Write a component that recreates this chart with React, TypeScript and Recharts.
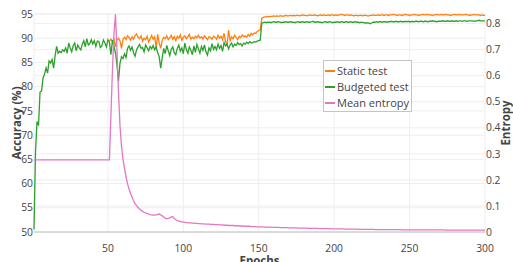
import { CartesianGrid, Label, Legend, Line, LineChart, ReferenceLine, XAxis, YAxis } from 'recharts';

// epochs 1..300
const budgetedTest = [
  50.5, 66.5, 72.8, 72.0, 78.9, 79.1, 81.8, 82.6, 83.9, 82.8,
  85.3, 84.9, 85.6, 83.8, 86.4, 88.3, 86.9, 87.3, 87.0, 87.6,
  87.3, 88.0, 86.9, 89.0, 88.0, 87.2, 88.5, 89.0, 87.4, 88.6,
  88.0, 87.6, 88.7, 89.5, 88.2, 89.9, 88.6, 88.9, 89.7, 88.8,
  89.5, 88.3, 89.4, 89.3, 88.1, 88.4, 89.6, 89.0, 88.2, 89.7,
  89.2, 86.6, 89.6, 88.3, 87.0, 84.5, 81.2, 84.8, 86.2, 85.8,
  86.8, 86.0, 87.9, 88.4, 87.5, 88.2, 87.0, 86.3, 87.6, 88.2,
  88.7, 87.9, 88.1, 87.2, 88.6, 88.0, 87.4, 88.3, 87.8, 88.5,
  87.6, 88.2, 87.0, 86.2, 83.8, 86.0, 87.9, 86.8, 88.5, 87.4,
  86.4, 87.7, 88.2, 87.0, 86.6, 87.9, 88.6, 87.3, 88.0, 86.8,
  89.0, 87.6, 86.9, 88.2, 87.5, 86.6, 88.4, 87.1, 88.7, 87.8,
  86.9, 88.3, 87.5, 88.6, 87.2, 86.5, 88.0, 87.4, 88.9, 87.7,
  88.3, 87.6, 88.8, 87.9, 88.5, 87.3, 89.1, 88.4, 88.8, 87.8,
  88.6, 89.0, 88.2, 88.8, 88.5, 89.1, 88.7, 88.9, 88.4, 89.0,
  88.8, 89.2, 88.9, 89.3, 89.0, 89.1, 89.3, 89.2, 89.4, 89.5,
  89.6, 93.1, 93.2, 93.3, 93.2, 93.3, 93.3, 93.2, 93.3, 93.4,
  93.3, 93.3, 93.4, 93.3, 93.2, 93.3, 93.3, 93.4, 93.3, 93.3,
  93.4, 93.3, 93.3, 93.2, 93.3, 93.4, 93.3, 93.3, 93.4, 93.3,
  93.3, 93.4, 93.3, 93.3, 93.4, 93.5, 93.3, 93.3, 93.4, 93.3,
  93.3, 93.2, 93.3, 93.4, 93.3, 93.3, 93.4, 93.3, 93.2, 93.3,
  93.3, 93.4, 93.3, 93.3, 93.4, 93.3, 93.3, 93.4, 93.3, 93.3,
  93.4, 93.3, 93.3, 93.4, 93.3, 93.3, 93.2, 93.3, 93.2, 93.2,
  93.1, 93.2, 93.1, 93.0, 93.2, 93.3, 93.3, 93.4, 93.3, 93.4,
  93.4, 93.3, 93.4, 93.4, 93.3, 93.4, 93.4, 93.5, 93.4, 93.4,
  93.5, 93.4, 93.4, 93.5, 93.4, 93.4, 93.5, 93.4, 93.5, 93.4,
  93.4, 93.5, 93.4, 93.5, 93.5, 93.4, 93.5, 93.5, 93.4, 93.5,
  93.5, 93.4, 93.5, 93.5, 93.6, 93.5, 93.5, 93.4, 93.5, 93.5,
  93.5, 93.6, 93.5, 93.5, 93.6, 93.5, 93.5, 93.6, 93.5, 93.5,
  93.6, 93.5, 93.6, 93.6, 93.5, 93.6, 93.6, 93.5, 93.6, 93.6,
  93.6, 93.6, 93.5, 93.6, 93.6, 93.7, 93.6, 93.6, 93.6, 93.6,
];

// static test is only visible from epoch 51 on (hidden under budgeted before)
const staticStart = 51;
const staticTest = [
  89.4, 89.8, 89.3, 89.9, 88.2, 89.6, 90.0, 89.5, 87.9, 89.8,
  90.2, 89.7, 90.5, 90.1, 89.6, 90.3, 89.8, 90.6, 90.9, 90.2,
  89.9, 90.5, 89.4, 90.0, 89.7, 90.4, 89.2, 89.9, 90.6, 89.8,
  90.3, 88.0, 90.8, 89.0, 87.9, 89.6, 90.2, 89.9, 90.5, 89.7,
  90.1, 90.6, 89.8, 90.3, 89.5, 90.4, 90.0, 90.7, 89.6, 90.2,
  90.5, 89.9, 90.3, 90.8, 89.8, 90.2, 89.9, 90.4, 90.1, 90.6,
  90.0, 90.3, 89.8, 90.5, 90.1, 89.7, 90.3, 90.2, 89.8, 90.4,
  90.2, 89.8, 90.6, 90.0, 90.4, 89.7, 91.0, 89.3, 88.6, 91.7,
  89.5, 90.3, 89.9, 90.6, 90.2, 89.7, 90.4, 90.1, 90.7, 90.3,
  90.5, 90.2, 90.8, 90.4, 91.0, 90.7, 91.1, 91.0, 91.4, 91.6,
  91.7, 94.1, 94.3, 94.4, 94.4, 94.5, 94.4, 94.5, 94.5, 94.6,
  94.5, 94.6, 94.5, 94.6, 94.6, 94.5, 94.6, 94.7, 94.6, 94.6,
  94.7, 94.6, 94.7, 94.6, 94.7, 94.7, 94.6, 94.7, 94.8, 94.7,
  94.7, 94.6, 94.7, 94.8, 94.7, 94.7, 94.8, 94.7, 94.6, 94.7,
  94.8, 94.7, 94.8, 94.7, 94.7, 94.8, 94.7, 94.8, 94.8, 94.7,
  94.8, 94.7, 94.8, 94.8, 94.9, 94.8, 94.7, 94.8, 94.8, 94.7,
  94.8, 94.7, 94.6, 94.7, 94.7, 94.6, 94.7, 94.7, 94.6, 94.7,
  94.7, 94.6, 94.6, 94.7, 94.7, 94.8, 94.7, 94.7, 94.8, 94.7,
  94.8, 94.8, 94.7, 94.8, 94.8, 94.7, 94.8, 94.8, 94.9, 94.8,
  94.8, 94.7, 94.8, 94.8, 94.7, 94.8, 94.9, 94.8, 94.8, 94.7,
  94.8, 94.8, 94.9, 94.8, 94.8, 94.7, 94.8, 94.8, 94.9, 94.8,
  94.8, 94.9, 94.8, 94.8, 94.7, 94.8, 94.8, 94.9, 94.8, 94.8,
  94.9, 94.8, 94.8, 94.9, 94.8, 94.8, 94.7, 94.8, 94.8, 94.9,
  94.8, 94.8, 94.9, 94.8, 94.8, 94.8, 94.9, 94.8, 94.8, 94.7,
  94.8, 94.8, 94.9, 94.8, 94.8, 94.8, 94.7, 94.8, 94.7, 94.7,
];

const meanEntropy = [
  0.277, 0.277, 0.277, 0.277, 0.277, 0.277, 0.277, 0.277, 0.277, 0.277,
  0.277, 0.277, 0.277, 0.277, 0.277, 0.277, 0.277, 0.277, 0.277, 0.277,
  0.277, 0.277, 0.277, 0.277, 0.277, 0.277, 0.277, 0.277, 0.277, 0.277,
  0.277, 0.277, 0.277, 0.277, 0.277, 0.277, 0.277, 0.277, 0.277, 0.277,
  0.277, 0.277, 0.277, 0.277, 0.277, 0.277, 0.277, 0.277, 0.277, 0.277,
  0.277, 0.45, 0.62, 0.76, 0.836, 0.70, 0.54, 0.41, 0.33, 0.28,
  0.245, 0.212, 0.186, 0.165, 0.148, 0.133, 0.12, 0.109, 0.101, 0.094,
  0.088, 0.083, 0.079, 0.076, 0.073, 0.071, 0.069, 0.067, 0.066, 0.065,
  0.065, 0.066, 0.068, 0.069, 0.066, 0.062, 0.057, 0.053, 0.051, 0.052,
  0.054, 0.058, 0.059, 0.052, 0.047, 0.044, 0.042, 0.040, 0.039, 0.038,
  0.037, 0.036, 0.036, 0.035, 0.035, 0.034, 0.034, 0.033, 0.033, 0.032,
  0.032, 0.031, 0.031, 0.031, 0.030, 0.030, 0.030, 0.029, 0.029, 0.029,
  0.028, 0.028, 0.028, 0.027, 0.027, 0.027, 0.026, 0.026, 0.026, 0.025,
  0.025, 0.025, 0.025, 0.024, 0.024, 0.024, 0.023, 0.023, 0.023, 0.023,
  0.022, 0.022, 0.022, 0.022, 0.021, 0.021, 0.021, 0.021, 0.020, 0.020,
  0.020, 0.020, 0.020, 0.019, 0.019, 0.019, 0.019, 0.019, 0.018, 0.018,
  0.018, 0.018, 0.018, 0.017, 0.017, 0.017, 0.017, 0.017, 0.017, 0.016,
  0.016, 0.016, 0.016, 0.016, 0.016, 0.015, 0.015, 0.015, 0.015, 0.015,
  0.015, 0.015, 0.014, 0.014, 0.014, 0.014, 0.014, 0.014, 0.014, 0.013,
  0.013, 0.013, 0.013, 0.013, 0.013, 0.013, 0.013, 0.012, 0.012, 0.012,
  0.012, 0.012, 0.012, 0.012, 0.012, 0.012, 0.011, 0.011, 0.011, 0.011,
  0.011, 0.011, 0.011, 0.011, 0.011, 0.010, 0.010, 0.010, 0.010, 0.010,
  0.010, 0.010, 0.010, 0.010, 0.010, 0.010, 0.009, 0.009, 0.009, 0.009,
  0.009, 0.009, 0.009, 0.009, 0.009, 0.009, 0.009, 0.009, 0.009, 0.009,
  0.009, 0.009, 0.009, 0.009, 0.008, 0.008, 0.008, 0.008, 0.008, 0.008,
  0.008, 0.008, 0.008, 0.008, 0.008, 0.008, 0.008, 0.008, 0.008, 0.008,
  0.008, 0.008, 0.008, 0.008, 0.008, 0.008, 0.008, 0.008, 0.008, 0.008,
  0.008, 0.008, 0.008, 0.007, 0.007, 0.007, 0.007, 0.007, 0.007, 0.007,
  0.007, 0.007, 0.007, 0.007, 0.007, 0.007, 0.007, 0.007, 0.007, 0.007,
  0.007, 0.007, 0.007, 0.007, 0.007, 0.007, 0.007, 0.007, 0.007, 0.007,
];

const seriesNames = ['Static test', 'Budgeted test', 'Mean entropy'];
const epochTicks = [50, 100, 150, 200, 250, 300];
const accTicks = [50, 55, 60, 65, 70, 75, 80, 85, 90, 95];
const entTicks = [0, 0.1, 0.2, 0.3, 0.4, 0.5, 0.6, 0.7, 0.8];

const FONT = '"Open Sans", sans-serif';
const TICK = { fontSize: 10.3, fill: '#444', fontFamily: FONT };
const titleStyle = { fontSize: 11.5, fontWeight: 700, fill: '#444', fontFamily: FONT };

const data = budgetedTest.map((b, i) => {
  const epoch = i + 1;
  return {
    epoch,
    budgeted: b,
    static: epoch >= staticStart ? staticTest[epoch - staticStart] : null,
    entropy: meanEntropy[i],
  };
});

function LegendBox({ payload }: any) {
  if (!payload) return null;
  // keep trace order instead of recharts' alphabetical sort
  const items = [...payload].sort((a: any, b: any) => seriesNames.indexOf(a.value) - seriesNames.indexOf(b.value));
  return (
    <div
      style={{
        width: 89,
        height: 52,
        boxSizing: 'border-box',
        border: '1px solid #c4c4c4',
        background: '#fff',
        paddingTop: 2,
        paddingLeft: 1,
        fontFamily: FONT,
        fontSize: 11,
        color: '#444',
      }}
    >
      {items.map((p: any) => (
        <div key={p.value} style={{ display: 'flex', alignItems: 'center', height: 16, lineHeight: '16px', whiteSpace: 'nowrap' }}>
          <span style={{ display: 'inline-block', width: 10, height: 1.5, background: p.color, marginRight: 2 }} />
          <span>{p.value}</span>
        </div>
      ))}
    </div>
  );
}

export default function App() {
  return (
    <div style={{ position: 'absolute', left: 0, top: 0, width: 513, height: 262, background: '#fff' }}>
      <LineChart width={513} height={262} data={data} margin={{ top: 14, right: 0, bottom: 0, left: 0 }}>
        <CartesianGrid yAxisId="acc" stroke="#eeeeee" strokeWidth={1} />
        <CartesianGrid yAxisId="ent" stroke="#eeeeee" strokeWidth={1} vertical={false} />
        <XAxis
          dataKey="epoch"
          type="number"
          domain={[1, 300]}
          ticks={epochTicks}
          interval={0}
          tickLine={false}
          axisLine={false}
          tickSize={0}
          tickMargin={13}
          height={30}
          tick={TICK}
        >
          <Label
            content={() => (
              <text x={259.5} y={260} textAnchor="middle" dominantBaseline="central" style={titleStyle}>
                Epochs
              </text>
            )}
          />
        </XAxis>
        <YAxis
          yAxisId="acc"
          domain={[50, 95]}
          ticks={accTicks}
          interval={0}
          width={34}
          tickLine={false}
          axisLine={false}
          tickSize={0}
          tickMargin={1}
          tick={TICK}
        >
          <Label
            content={() => (
              <text x={16} y={123} transform="rotate(-90 16 123)" textAnchor="middle" dominantBaseline="central" style={titleStyle}>
                Accuracy (%)
              </text>
            )}
          />
        </YAxis>
        <YAxis
          yAxisId="ent"
          orientation="right"
          domain={[0, 0.837]}
          ticks={entTicks}
          interval={0}
          width={28}
          tickLine={false}
          axisLine={false}
          tickSize={0}
          tickMargin={1}
          tick={TICK}
          tickFormatter={(v: number) => (v === 0 ? '0' : v.toFixed(1))}
        >
          <Label
            content={() => (
              <text x={505} y={123} transform="rotate(-90 505 123)" textAnchor="middle" dominantBaseline="central" style={titleStyle}>
                Entropy
              </text>
            )}
          />
        </YAxis>
        <ReferenceLine yAxisId="ent" y={0} stroke="#c2c2c2" strokeWidth={1} />
        <Line yAxisId="acc" dataKey="static" name={seriesNames[0]} stroke="#ff7f0e" strokeWidth={1.3} dot={false} type="linear" isAnimationActive={false} />
        <Line yAxisId="acc" dataKey="budgeted" name={seriesNames[1]} stroke="#2ca02c" strokeWidth={1.3} dot={false} type="linear" isAnimationActive={false} />
        <Line yAxisId="ent" dataKey="entropy" name={seriesNames[2]} stroke="#e377c2" strokeWidth={1.3} dot={false} type="linear" isAnimationActive={false} />
        <Legend
          layout="vertical"
          align="center"
          verticalAlign="middle"
          content={<LegendBox />}
          wrapperStyle={{ left: 323, top: 60, width: 89, height: 52 }}
        />
      </LineChart>
    </div>
  );
}
